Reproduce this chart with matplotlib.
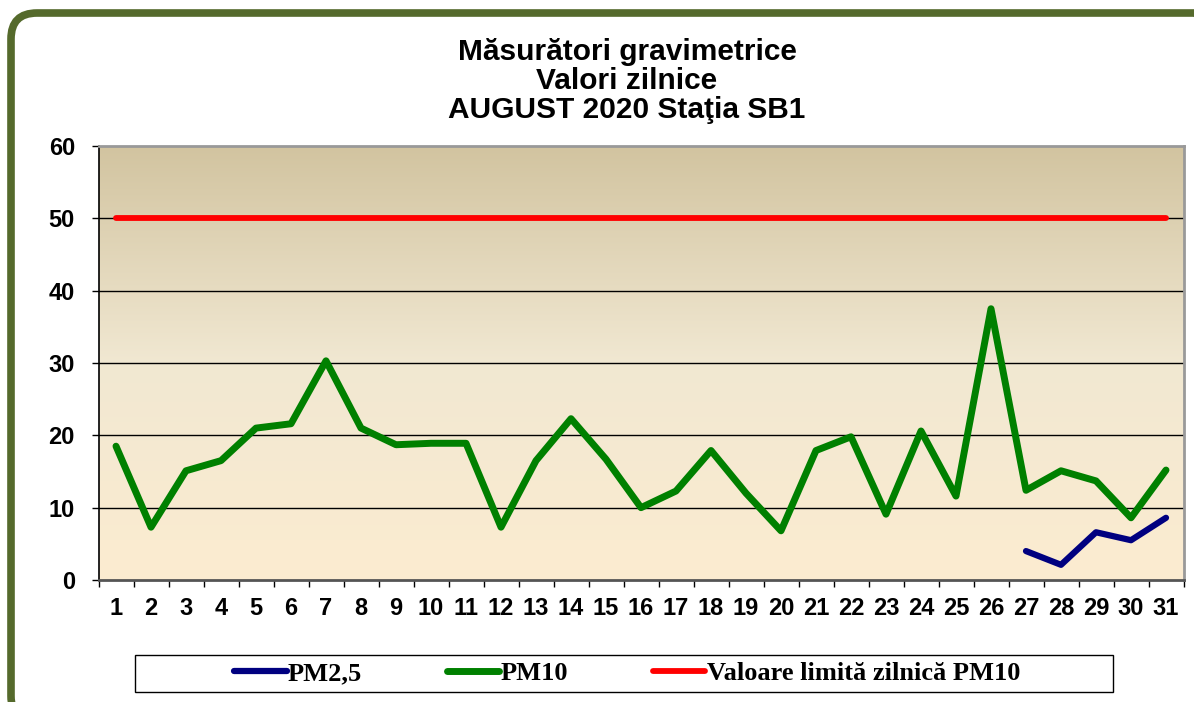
import matplotlib
matplotlib.use("Agg")
import matplotlib.pyplot as plt
import numpy as np
from matplotlib.patches import FancyBboxPatch, Rectangle
from matplotlib.transforms import IdentityTransform
from matplotlib.colors import LinearSegmentedColormap

# daily values, August 2020, station SB1
days = list(range(1, 32))
pm10 = [18.5, 7.3, 15.1, 16.5, 21.0, 21.6, 30.3, 21.0, 18.7, 18.9, 18.9,
        7.3, 16.5, 22.3, 16.7, 10.0, 12.3, 17.9, 12.0, 6.8, 17.9, 19.8,
        9.1, 20.6, 11.6, 37.5, 12.4, 15.1, 13.7, 8.6, 15.2]
pm25_days = [27, 28, 29, 30, 31]
pm25 = [4.0, 2.1, 6.6, 5.5, 8.6]
limit_pm10 = [50] * len(days)

labels = ["PM2,5", "PM10", "Valoare limită zilnică PM10"]
title_lines = ["Măsurători gravimetrice", "Valori zilnice", "AUGUST 2020 Staţia SB1"]

W, H = 1194, 702
fig = plt.figure(figsize=(W / 100, H / 100), dpi=100)
fig.patch.set_facecolor("white")

# rounded green frame (pixel coords), runs off the right and bottom edges
frame = FancyBboxPatch((11, -20), 1210, H - 12 + 19, boxstyle="round,pad=0,rounding_size=26",
                       transform=IdentityTransform(), facecolor="none",
                       edgecolor="#556a2c", linewidth=5.5, zorder=0)
fig.patches.append(frame)

ax = fig.add_axes([98.5 / W, (H - 580) / H, 1085 / W, 434 / H])
ax.set_xlim(0.5, 31.5)
ax.set_ylim(0, 60)

# gradient background
cmap = LinearSegmentedColormap.from_list("bg", ["#fcecd0", "#f1e8d2", "#d2c4a0"])
grad = np.linspace(0, 1, 256).reshape(-1, 1)
ax.imshow(grad, extent=(0.5, 31.5, 0, 60), origin="lower", aspect="auto",
          cmap=cmap, zorder=0)

for yv in range(10, 60, 10):
    ax.axhline(yv, color="black", linewidth=1.0, zorder=1)

ax.plot(days, limit_pm10, color="#ff0000", linewidth=4.2, solid_capstyle="round",
        zorder=3, label=labels[2])
ax.plot(days, pm10, color="#008000", linewidth=5, solid_capstyle="round",
        zorder=4, label=labels[1])
ax.plot(pm25_days, pm25, color="#000080", linewidth=4.5, solid_capstyle="round",
        zorder=5, label=labels[0])

ax.set_yticks(range(0, 61, 10))
ax.set_xticks(days)
ax.set_xticks(np.arange(0.5, 32, 1), minor=True)
ax.tick_params(axis="x", which="major", length=0, pad=12)
ax.tick_params(axis="x", which="minor", length=5, width=1, color="black", direction="out")
ax.tick_params(axis="y", length=5, width=1, direction="out", pad=12)
for lab in ax.get_xticklabels() + ax.get_yticklabels():
    lab.set_fontfamily("Liberation Sans")
    lab.set_fontweight("bold")
    lab.set_fontsize(17)

ax.spines["left"].set_color("black")
ax.spines["left"].set_linewidth(1.2)
ax.spines["bottom"].set_color("#555555")
ax.spines["bottom"].set_linewidth(2)
ax.spines["top"].set_color("#999999")
ax.spines["top"].set_linewidth(2)
ax.spines["right"].set_color("#999999")
ax.spines["right"].set_linewidth(2)

for line, ypix in zip(title_lines, [52, 81, 110]):
    fig.text(627 / W, 1 - ypix / H, line, ha="center", va="center",
             fontfamily="Liberation Sans", fontweight="bold", fontsize=21.5)

# legend box
fig.patches.append(Rectangle((135 / W, 1 - 692 / H), (1113 - 135) / W, 37 / H,
                             transform=fig.transFigure, facecolor="white",
                             edgecolor="black", linewidth=1))
handles, labs = ax.get_legend_handles_labels()
order = [2, 1, 0]
leg = fig.legend([handles[i] for i in order], [labs[i] for i in order],
                 loc="center", bbox_to_anchor=(627 / W, 1 - 673.5 / H), ncol=3,
                 frameon=False, handlelength=2.0, handletextpad=0.05,
                 columnspacing=3.2,
                 prop={"family": "Liberation Serif", "weight": "bold", "size": 19})

fig.savefig("out.png", dpi=100)
